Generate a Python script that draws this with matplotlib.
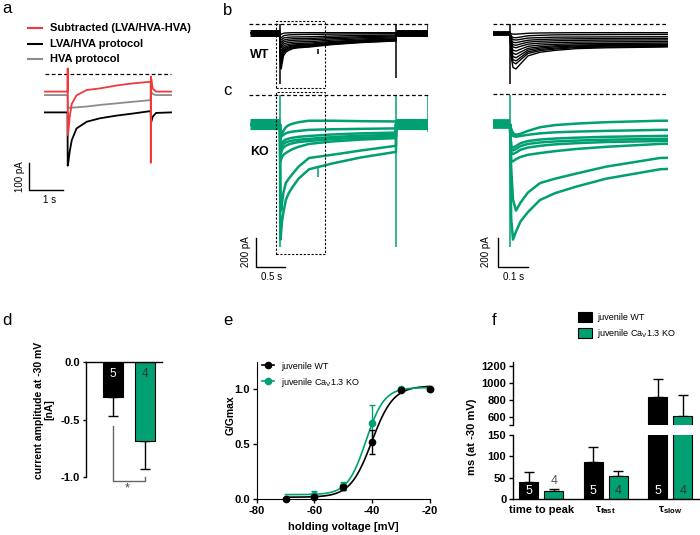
import numpy as np
import matplotlib
matplotlib.use("Agg")
import matplotlib.pyplot as plt
from matplotlib.lines import Line2D
from matplotlib.patches import Rectangle

# ---------------- data ----------------
# panel a: example traces (time in s from step onset, current in pA)
a_black_t = [-0.67, -0.005, 0.0, 0.02, 0.06, 0.12, 0.26, 0.56, 0.95, 1.44, 1.93, 2.44, 2.45, 2.5, 2.6, 3.04]
a_black_i = [-144, -144, -344, -330, -290, -248, -204, -179, -166, -156, -148, -139, -184, -160, -146, -144]
a_grey_t = [-0.67, -0.005, 0.0, 0.02, 0.26, 0.56, 0.95, 1.44, 1.93, 2.44, 2.45, 2.5, 2.6, 3.04]
a_grey_i = [-79, -79, -129, -127, -125, -122, -116, -110, -104, -98, -66, -75, -79, -79]
a_red_t = [-0.67, -0.005, 0.0, 0.005, 0.02, 0.06, 0.12, 0.26, 0.56, 0.95, 1.44, 1.93, 2.44, 2.445, 2.45, 2.5, 2.6, 3.04]
a_red_i = [-66, -66, 21, -229, -215, -160, -112, -80, -60, -54, -43, -35, -29, -333, -10, -55, -66, -66]
a_labels = ["Subtracted (LVA/HVA-HVA)", "LVA/HVA protocol", "HVA protocol"]

# panels b/c: current families, inward current relative to holding (pA)
step_t = [0, 0.004, 0.01, 0.02, 0.035, 0.06, 0.1, 0.15, 0.22, 0.32, 0.5, 0.9, 1.4, 2.0]
wt_hold = -60
wt_traces = [
    [0, 7, 10, 10, 8, 4, 2, 1, 0, 0, 0, 0, 0, 0],
    [0, 24, 33, 35, 30, 21, 18, 15, 14, 13, 12, 10, 8, 7],
    [0, 35, 48, 51, 46, 37, 34, 31, 30, 29, 28, 23, 19, 16],
    [0, 47, 66, 69, 62, 52, 47, 44, 42, 41, 40, 33, 28, 23],
    [0, 59, 83, 87, 78, 65, 59, 56, 53, 51, 50, 42, 35, 29],
    [0, 71, 99, 104, 94, 79, 72, 68, 65, 63, 62, 51, 43, 36],
    [0, 86, 121, 127, 114, 94, 85, 80, 76, 74, 72, 60, 50, 42],
    [0, 102, 142, 150, 134, 108, 97, 90, 85, 82, 80, 66, 55, 46],
    [0, 118, 164, 173, 153, 120, 106, 98, 91, 88, 85, 71, 59, 49],
    [0, 133, 185, 195, 171, 132, 115, 106, 97, 93, 90, 75, 62, 52],
    [0, 146, 204, 215, 187, 143, 124, 113, 103, 99, 95, 79, 66, 55],
    [0, 170, 240, 250, 215, 160, 135, 122, 110, 104, 99, 82, 68, 57],
]
ko_hold = -206
ko_traces = [
    [0, 30, 60, 72, 65, 45, 20, 5, -5, -15, -25, -25, -22, -20],
    [0, 50, 80, 85, 80, 72, 62, 55, 50, 45, 38, 34, 31, 28],
    [0, 150, 160, 150, 130, 115, 105, 98, 92, 86, 80, 70, 62, 57],
    [0, 170, 180, 170, 150, 135, 125, 118, 112, 106, 100, 88, 78, 72],
    [0, 195, 205, 195, 175, 160, 148, 138, 130, 122, 115, 102, 92, 85],
    [0, 250, 255, 240, 225, 210, 198, 185, 170, 155, 135, 118, 105, 95],
    [0, 300, 520, 595, 540, 470, 405, 375, 340, 292, 232, 210, 180, 148],
    [0, 650, 795, 740, 670, 605, 522, 475, 430, 375, 310, 270, 228, 190],
]
# capacitive artefacts: time, lower, upper (pA)
wt_spike_t = [0.0, 2.0, 2.55, 0.655]
wt_spike_lo = [-414, -370, -60, -206]
wt_spike_hi = [0, 0, 0, -171]
ko_spike_t = [0.0, 2.0, 2.55, 0.655]
ko_spike_lo = [-1052, -1052, -259, -567]
ko_spike_hi = [0, 0, 0, -509]

# panel d
d_groups = ["WT", "KO"]
d_mean = [-0.30, -0.69]
d_err = [0.17, 0.24]
d_n = ["5", "4"]

# panel e
e_v_wt = [-70, -60, -50, -40, -30, -20]
e_g_wt = [0.0, 0.02, 0.105, 0.52, 0.99, 1.0]
e_err_wt = [0.005, 0.01, 0.02, 0.11, 0.01, 0.01]
e_v_ko = [-60, -50, -40, -30, -20]
e_g_ko = [0.04, 0.12, 0.685, 1.0, 1.0]
e_err_ko = [0.03, 0.035, 0.165, 0.01, 0.01]
e_labels = ["juvenile WT", "juvenile Ca$_V$1.3 KO"]

# panel f
f_params = ["time to peak", "τ$_{\\mathbf{fast}}$", "τ$_{\\mathbf{slow}}$"]
f_wt = [40.6, 87.5, 832]
f_wt_err = [23.4, 33.5, 213]
f_ko = [19.5, 53, 607]
f_ko_err = [3.9, 12, 248]
f_n_wt = ["5", "5", "5"]
f_n_ko = ["4", "4", "4"]

# ---------------- style ----------------
plt.rcParams['font.family'] = ['Liberation Sans', 'DejaVu Sans']
plt.rcParams['mathtext.fontset'] = 'custom'
plt.rcParams['mathtext.rm'] = 'Liberation Sans'
plt.rcParams['mathtext.it'] = 'Liberation Sans:italic'
plt.rcParams['mathtext.bf'] = 'Liberation Sans:bold'
plt.rcParams['mathtext.default'] = 'regular'
plt.rcParams['axes.unicode_minus'] = False

GREEN = '#00a072'
RED = '#f23838'
GREY = '#8c8c8c'
W, H = 700, 535
TICK_FS = 8

fig = plt.figure(figsize=(W / 100, H / 100), dpi=100)


def px_axes(l, t, r, b):
    return fig.add_axes([l / W, 1 - b / H, (r - l) / W, (b - t) / H])


def trace_axes(l, t, r, b, t0_px, px_per_s, zero_py, pa_per_px):
    ax = px_axes(l, t, r, b)
    ax.set_xlim((l - t0_px) / px_per_s, (r - t0_px) / px_per_s)
    ax.set_ylim(-(b - zero_py) * pa_per_px, -(t - zero_py) * pa_per_px)
    ax.axis('off')
    return ax


def to_data(ax, x, y):
    return ax.transData.inverted().transform((x, H - y))


def ftext(x, y, s, **kw):
    fig.text(x / W, 1 - y / H, s, **kw)


def fline(xs, ys, **kw):
    fig.add_artist(Line2D([x / W for x in xs], [1 - y / H for y in ys],
                          transform=fig.transFigure, **kw))


def scale_bar(ax, x_px, y_px, dt, di):
    t0, i0 = to_data(ax, x_px, y_px)
    ax.plot([t0, t0, t0 + dt], [i0 + di, i0, i0], color='k', lw=1, clip_on=False)


# ---------------- panel a ----------------
axa = trace_axes(25, 64, 175, 205, 67.7, 34, 74, 3.75)
axa.plot([-0.67, 3.04], [0, 0], color='k', lw=0.9, ls=(0, (3, 2)))
axa.plot(a_black_t, a_black_i, color='k', lw=1.3)
axa.plot(a_grey_t, a_grey_i, color=GREY, lw=1.3)
axa.plot(a_red_t, a_red_i, color=RED, lw=1.3)
scale_bar(axa, 29.3, 190, 1, 100)
ftext(20, 177, "100 pA", rotation=90, ha='center', va='center', fontsize=7)
ftext(50, 200, "1 s", ha='center', va='center', fontsize=7)
for k, (lab, col) in enumerate(zip(a_labels, [RED, 'k', GREY])):
    y = 28.3 + 15.5 * k
    fline([28, 42], [y, y], color=col, lw=1.5)
    ftext(50, y, lab, fontsize=8, fontweight='bold', va='center', ha='left')

# ---------------- panels b / c ----------------
def draw_family(ax, hold, traces, color, base_lw, tr_lw, spike_t, spike_lo, spike_hi, tmin, tmax):
    ax.plot([tmin, 0], [hold, hold], color=color, lw=base_lw, solid_capstyle='butt')
    ax.plot([2.0, tmax], [hold, hold], color=color, lw=base_lw, solid_capstyle='butt')
    for tr in traces:
        tt = np.r_[tmin, step_t, 2.001, tmax]
        ii = hold - np.r_[0, tr, 0, 0]
        ax.plot(tt, ii, color=color, lw=tr_lw)
    ax.vlines(spike_t, spike_lo, spike_hi, color=color, lw=1.1)


pa_px = 6.9
axb_l = trace_axes(250, 18, 428, 92, 280, 58, 24, pa_px)
axb_r = trace_axes(493, 18, 668, 92, 510, 300, 24, pa_px)
axc_l = trace_axes(250, 90, 428, 258, 280, 58, 94.5, pa_px)
axc_r = trace_axes(493, 90, 668, 258, 510, 300, 94.5, pa_px)

for ax, blw in [(axb_l, 5), (axb_r, 3.5)]:
    draw_family(ax, wt_hold, wt_traces, 'k', blw, 1.0, wt_spike_t, wt_spike_lo, wt_spike_hi, -0.52, 2.55)
for ax, blw in [(axc_l, 8), (axc_r, 7)]:
    draw_family(ax, ko_hold, ko_traces, GREEN, blw, 1.8, ko_spike_t, ko_spike_lo, ko_spike_hi, -0.52, 2.55)

dash = (0, (3, 2))
fline([249, 429], [24, 24], color='k', lw=0.9, ls=dash)
fline([493, 668], [24, 24], color='k', lw=0.9, ls=dash)
fline([249, 429], [94.5, 94.5], color='k', lw=0.9, ls=dash)
fline([493, 668], [94, 94], color='k', lw=0.9, ls=dash)
for (x0, y0, x1, y1) in [(276, 21, 325, 88), (276, 92, 325, 254)]:
    fig.add_artist(Rectangle((x0 / W, 1 - y1 / H), (x1 - x0) / W, (y1 - y0) / H,
                             transform=fig.transFigure, fill=False, lw=0.8,
                             ls=(0, (2, 1.5)), ec='k'))
ftext(250, 55, "WT", fontsize=9, fontweight='bold', va='center')
ftext(250, 152, "KO", fontsize=9, fontweight='bold', va='center')

scale_bar(axc_l, 256, 267, 0.5, 200)
scale_bar(axc_r, 498, 267, 0.1, 200)
ftext(246, 252, "200 pA", rotation=90, ha='center', va='center', fontsize=7)
ftext(486, 252, "200 pA", rotation=90, ha='center', va='center', fontsize=7)
ftext(271.5, 277, "0.5 s", ha='center', va='center', fontsize=7)
ftext(514, 277, "0.1 s", ha='center', va='center', fontsize=7)

# ---------------- panel d ----------------
axd = px_axes(86, 362.3, 161.7, 476.7)
xd = np.arange(len(d_groups))
axd.bar(xd, d_mean, width=0.62, color=['k', GREEN], edgecolor='k', lw=0.8, zorder=2)
axd.errorbar(xd, d_mean, yerr=[d_err, [0, 0]], fmt='none', ecolor='k',
             elinewidth=1, capsize=3.5, capthick=1, zorder=1)
axd.set_xlim(-0.827, 1.517)
axd.set_ylim(-1.0, 0)
for sp in ['bottom', 'right']:
    axd.spines[sp].set_visible(False)
axd.spines['top'].set_linewidth(1)
axd.spines['left'].set_linewidth(1)
axd.set_xticks([])
axd.set_yticks([0, -0.5, -1.0])
axd.set_yticklabels(["0.0", "-0.5", "-1.0"], fontsize=TICK_FS, fontweight='bold')
axd.tick_params(axis='y', length=2.5, width=1, pad=2)
for x, n, c in zip(xd, d_n, ['white', '#333333']):
    axd.text(x, -0.105, n, ha='center', va='center', fontsize=8.5, color=c)
axd.plot([0, 0, 1, 1], [-0.56, -1.04, -1.04, -1.0], color='#666666', lw=1, clip_on=False)
axd.text(0.45, -1.1, "*", ha='center', va='center', fontsize=9, color='#444444')
ftext(44, 410, "current amplitude at -30 mV\n[nA]", rotation=90, ha='center', va='center',
      fontsize=7.5, fontweight='bold', multialignment='center', linespacing=1.1)

# ---------------- panel e ----------------
def boltzmann_fit(v, g):
    v = np.asarray(v, float)
    g = np.asarray(g, float)
    v50s = np.arange(-55, -25, 0.05)
    ks = np.arange(1.5, 10, 0.02)
    V50, K = np.meshgrid(v50s, ks, indexing='ij')
    s = 1 / (1 + np.exp((V50[..., None] - v) / K[..., None]))
    sm = s.mean(-1)
    gm = g.mean()
    a = ((s - sm[..., None]) * (g - gm)).sum(-1) / ((s - sm[..., None]) ** 2).sum(-1)
    b = gm - a * sm
    res = ((b[..., None] + a[..., None] * s - g) ** 2).sum(-1)
    i = np.unravel_index(res.argmin(), res.shape)
    return v50s[i[0]], ks[i[1]], a[i], b[i]


axe = px_axes(256.7, 361.7, 430, 499)
vv = np.linspace(-70, -20, 300)
for v, g, err, col in [(e_v_wt, e_g_wt, e_err_wt, 'k'), (e_v_ko, e_g_ko, e_err_ko, GREEN)]:
    v50, k, amp, bot = boltzmann_fit(v, g)
    axe.plot(vv, bot + amp / (1 + np.exp((v50 - vv) / k)), color=col, lw=1.2)
axe.errorbar(e_v_wt, e_g_wt, yerr=e_err_wt, fmt='o', color='k', ms=4.5,
             elinewidth=1, capsize=2.5, capthick=1, clip_on=False, zorder=4)
axe.errorbar(e_v_ko, e_g_ko, yerr=e_err_ko, fmt='o', color=GREEN, ms=4.5,
             elinewidth=1, capsize=2.5, capthick=1, clip_on=False, zorder=3)
axe.set_xlim(-80, -20)
axe.set_ylim(0, 1.245)
for sp in ['top', 'right']:
    axe.spines[sp].set_visible(False)
axe.set_xticks([-80, -60, -40, -20])
axe.set_xticklabels(["-80", "-60", "-40", "-20"], fontsize=TICK_FS, fontweight='bold')
axe.set_yticks([0, 0.5, 1.0])
axe.set_yticklabels(["0.0", "0.5", "1.0"], fontsize=TICK_FS, fontweight='bold')
axe.tick_params(length=3, width=1, pad=2)
axe.set_xlabel("holding voltage [mV]", fontsize=8, fontweight='bold', labelpad=4)
ftext(231, 415, "G/Gmax", rotation=90, ha='center', va='center', fontsize=7.5, fontweight='bold')
lh = [Line2D([], [], color='k', marker='o', ms=4.5, lw=1.2),
      Line2D([], [], color=GREEN, marker='o', ms=4.5, lw=1.2)]
axe.legend(lh, e_labels, loc='upper left', bbox_to_anchor=(0.0, 1.04), frameon=False,
           fontsize=6.5, handlelength=1.3, handletextpad=0.8, labelspacing=0.55,
           borderaxespad=0.2)

# ---------------- panel f ----------------
xf = np.arange(len(f_params))
off, bw = 0.194, 0.3
axf_hi = px_axes(513.3, 361.7, 700, 425)
axf_lo = px_axes(513.3, 435, 700, 499)
for ax in (axf_hi, axf_lo):
    ax.bar(xf - off, f_wt, width=bw, color='k', edgecolor='k', lw=0.8, zorder=2)
    ax.bar(xf + off, f_ko, width=bw, color=GREEN, edgecolor='k', lw=0.8, zorder=2)
    ax.errorbar(xf - off, f_wt, yerr=[[0] * 3, f_wt_err], fmt='none', ecolor='k',
                elinewidth=1, capsize=3.5, capthick=1, zorder=1)
    ax.errorbar(xf + off, f_ko, yerr=[[0] * 3, f_ko_err], fmt='none', ecolor='k',
                elinewidth=1, capsize=3.5, capthick=1, zorder=1)
    ax.set_xlim(-0.433, 2.462)
    for sp in ['top', 'right']:
        ax.spines[sp].set_visible(False)
    ax.spines['left'].set_linewidth(1)
    ax.tick_params(length=3, width=1, pad=2)
axf_hi.set_ylim(500, 1250)
axf_hi.spines['bottom'].set_visible(False)
axf_hi.set_xticks([])
axf_hi.set_yticks([500, 600, 800, 1000, 1200])
axf_hi.set_yticklabels(["", "600", "800", "1000", "1200"], fontsize=TICK_FS, fontweight='bold')
axf_lo.set_ylim(0, 150)
axf_lo.spines['bottom'].set_linewidth(1)
axf_lo.set_yticks([0, 50, 100, 150])
axf_lo.set_yticklabels(["0", "50", "100", "150"], fontsize=TICK_FS, fontweight='bold')
axf_lo.set_xticks(xf)
axf_lo.set_xticklabels(f_params, fontsize=8, fontweight='bold')
axf_lo.tick_params(axis='x', length=0, pad=4)
for x, n in zip(xf, f_n_wt):
    axf_lo.text(x - off, 18.7, n, ha='center', va='center', fontsize=9, color='white')
for x, n, v in zip(xf, f_n_ko, f_ko):
    yy = 18.7 if v > 30 else v + 22
    axf_lo.text(x + off, yy, n, ha='center', va='center', fontsize=9,
                color='#333333' if v > 30 else '#555555')
ftext(471.7, 437, "ms (at -30 mV)", rotation=90, ha='center', va='center',
      fontsize=8, fontweight='bold')
for k, (lab, col) in enumerate(zip(e_labels, ['k', GREEN])):
    y = 317 + 16 * k
    fig.add_artist(Rectangle((578 / W, 1 - (y + 5) / H), 14 / W, 10 / H, transform=fig.transFigure,
                             facecolor=col, edgecolor='k', lw=0.8))
    ftext(597, y, lab, fontsize=6.5, va='center', ha='left')

# ---------------- panel letters ----------------
for s, x, y in [("a", 2, 13), ("b", 223, 15), ("c", 223, 95), ("d", 2, 325), ("e", 223, 325), ("f", 492, 325)]:
    ftext(x, y, s, fontsize=12, va='baseline', ha='left')

fig.savefig("out.png", dpi=100)
